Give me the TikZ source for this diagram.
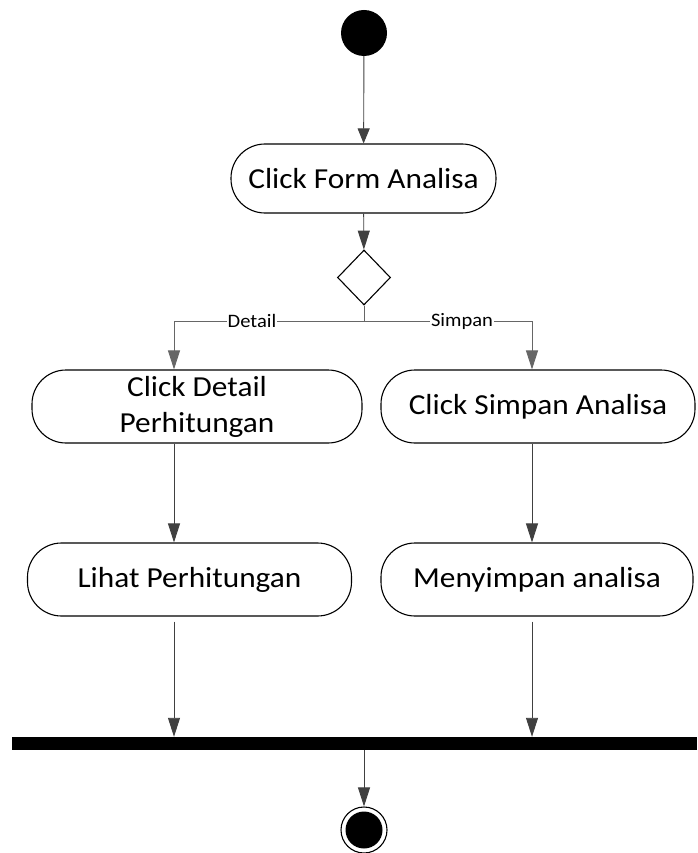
\documentclass[tikz,border=0pt]{standalone}
\usepackage{fontspec}
\setmainfont[FakeStretch=1.08]{Carlito}
\usetikzlibrary{shapes.geometric,arrows.meta}
\tikzset{
  act/.style={draw=black, line width=1.1pt, rounded corners=34pt, minimum height=73pt, inner sep=0pt, align=center, font=\fontsize{29}{36}\selectfont},
  arr/.style={draw=black!75, line width=0.9pt, -{Triangle[length=19pt,width=12pt]}},
  garr/.style={draw=black!60, line width=0.9pt, -{Triangle[length=19pt,width=12pt]}},
  lbl/.style={fill=white, inner sep=1pt, font=\fontsize{19}{22}\selectfont},
}
\begin{document}
\begin{tikzpicture}[x=1pt,y=-1pt]
\useasboundingbox (0,0) rectangle (697,853);
\node[circle, fill=black, minimum size=46pt, inner sep=0pt] (start) at (364,33) {};
\node[act, minimum width=265pt, minimum height=69pt] (b1) at (363.5,178.5) {Click Form Analisa};
\node[diamond, draw=black, line width=1.1pt, minimum width=53pt, minimum height=55pt, inner sep=0pt] (d) at (364,277.5) {};
\node[act, minimum width=330pt] (b2) at (197,406.5) {Click Detail\\Perhitungan};
\node[act, minimum width=314pt] (b3) at (538,406.5) {Click Simpan Analisa};
\node[act, minimum width=324pt] (b4) at (189.5,579.5) {Lihat Perhitungan};
\node[act, minimum width=312pt] (b5) at (537,579.5) {Menyimpan analisa};
\node[rectangle, fill=black, minimum width=685pt, minimum height=13pt, inner sep=0pt] (bar) at (354.5,743.5) {};
\node[circle, draw=black, line width=1.1pt, minimum size=46pt, inner sep=0pt] (end) at (364,830) {};
\node[circle, fill=black, minimum size=37pt, inner sep=0pt] (endin) at (364,830) {};
\coordinate (lx) at (174,0);
\coordinate (rx) at (532,0);
\coordinate (j) at (364,321);
\draw[arr, -{Triangle[length=15pt,width=12pt]}] (start) -- (b1);
\draw[arr] (b1) -- (d);
\draw[draw=black!60, line width=0.9pt] (d.south) -- (j);
\draw[garr] (j) -| (b2.north -| lx);
\draw[garr] (j) -| (b3.north -| rx);
\node[lbl] (ldet) at (252,321) {Detail};
\node[lbl] (lsim) at (462,321) {Simpan};
\draw[arr] (b2.south -| lx) -- (b4.north -| lx);
\draw[arr] (b3.south -| rx) -- (b5.north -| rx);
\draw[arr] ([yshift=-5pt]b4.south -| lx) -- (bar.north -| lx);
\draw[arr] ([yshift=-5pt]b5.south -| rx) -- (bar.north -| rx);
\draw[arr] (bar.south -| end) -- (end);
\end{tikzpicture}
\end{document}
